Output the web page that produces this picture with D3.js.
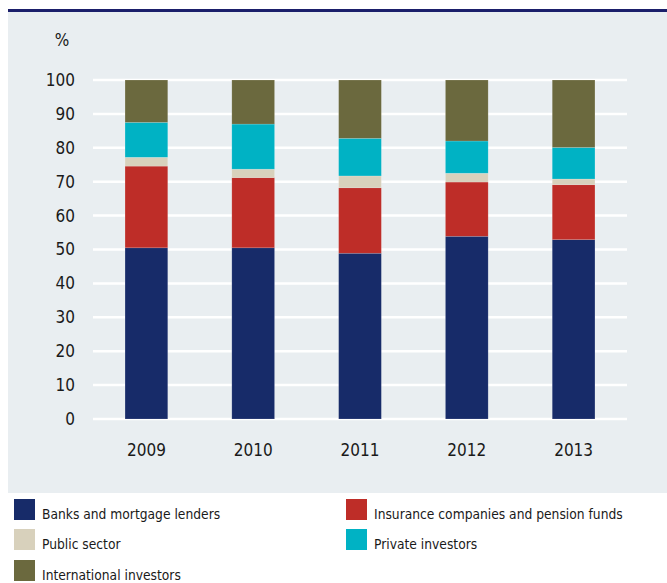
<!DOCTYPE html>
<html>
<head>
<meta charset="utf-8">
<script src="https://cdn.jsdelivr.net/npm/d3@7"></script>
<style>
  html, body { margin: 0; padding: 0; background: #ffffff; }
  svg { display: block; }
  text { font-family: "Liberation Sans Narrow", "DejaVu Sans Condensed", "Arial Narrow", sans-serif; fill: #1a1a1a; }
</style>
</head>
<body>
<svg id="chart" width="667" height="583"></svg>
<script>
// Holders of covered bonds, share in per cent
const years = ["2009", "2010", "2011", "2012", "2013"];
const banks = [50.5, 50.5, 48.9, 53.9, 52.9];
const insurance = [24.1, 20.7, 19.3, 16.0, 16.2];
const publicSector = [2.6, 2.5, 3.5, 2.6, 1.7];
const privateInvestors = [10.3, 13.3, 11.1, 9.5, 9.3];
const international = [12.5, 13.0, 17.2, 18.0, 19.9];
const yTicks = [0, 10, 20, 30, 40, 50, 60, 70, 80, 90, 100];

const seriesNames = ["Banks and mortgage lenders", "Insurance companies and pension funds",
  "Public sector", "Private investors", "International investors"];
const seriesKeys = ["banks", "insurance", "publicSector", "privateInvestors", "international"];
const seriesColors = ["#172b69", "#be2d28", "#d8d1bc", "#00b2c4", "#6b693e"];

const rows = years.map((y, i) => ({
  year: y,
  banks: banks[i],
  insurance: insurance[i],
  publicSector: publicSector[i],
  privateInvestors: privateInvestors[i],
  international: international[i]
}));

const svg = d3.select("#chart");

// header rule and panel
svg.append("rect").attr("x", 8).attr("y", 9).attr("width", 659).attr("height", 3).attr("fill", "#1b1f6b");
svg.append("rect").attr("x", 8).attr("y", 12).attr("width", 659).attr("height", 481).attr("fill", "#e9eef1");

const x = d3.scaleBand().domain(years).range([93, 627]).paddingInner(0.6).paddingOuter(0.3);
const y = d3.scaleLinear().domain([0, 100]).range([419, 80]);

// gridlines
svg.append("g").selectAll("line").data(yTicks).join("line")
  .attr("x1", 93).attr("x2", 627)
  .attr("y1", d => y(d)).attr("y2", d => y(d))
  .attr("stroke", "#ffffff").attr("stroke-width", 2.5);

// y axis labels
const yAxis = svg.append("g").attr("transform", "translate(93,0)")
  .call(d3.axisLeft(y).tickValues(yTicks).tickSize(0).tickPadding(18));
yAxis.select(".domain").remove();
yAxis.selectAll("text").style("font-size", "17px").attr("fill", "#1a1a1a")
  .style("font-family", "'Liberation Sans Narrow', 'DejaVu Sans Condensed', sans-serif");

svg.append("text").attr("x", 62).attr("y", 46).attr("text-anchor", "middle")
  .style("font-size", "17px").text("%");

// stacked bars
const stacked = d3.stack().keys(seriesKeys)(rows);
svg.append("g").selectAll("g").data(stacked).join("g")
  .attr("fill", (d, i) => seriesColors[i])
  .selectAll("rect").data(d => d).join("rect")
  .attr("x", d => x(d.data.year))
  .attr("width", x.bandwidth())
  .attr("y", d => y(d[1]))
  .attr("height", d => y(d[0]) - y(d[1]))
  .attr("stroke", "rgba(255,255,255,0.25)").attr("stroke-width", 0.6);

// x axis labels
const xAxis = svg.append("g").attr("transform", "translate(0,419)")
  .call(d3.axisBottom(x).tickSize(0).tickPadding(25));
xAxis.select(".domain").remove();
xAxis.selectAll("text").style("font-size", "17px").attr("fill", "#1a1a1a")
  .style("font-family", "'Liberation Sans Narrow', 'DejaVu Sans Condensed', sans-serif");

// legend
const legendPos = [
  { x: 14, y: 499 }, { x: 346, y: 499 },
  { x: 14, y: 529 }, { x: 346, y: 529 },
  { x: 14, y: 560 }
];
const legend = svg.append("g").selectAll("g").data(seriesNames).join("g")
  .attr("transform", (d, i) => `translate(${legendPos[i].x},${legendPos[i].y})`);
legend.append("rect").attr("width", 21).attr("height", 21)
  .attr("fill", (d, i) => seriesColors[i]);
legend.append("text").attr("x", 28).attr("y", 20)
  .style("font-size", "13.7px").text(d => d);
</script>
</body>
</html>
